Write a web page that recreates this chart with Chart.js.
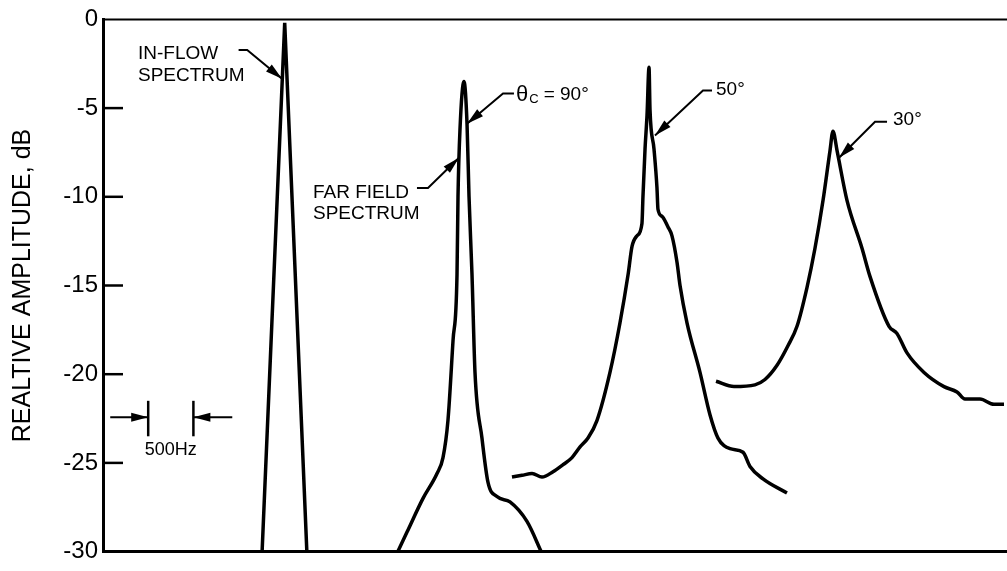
<!DOCTYPE html>
<html>
<head>
  <title>Relative amplitude spectra</title>
  <style>
    body {
      margin: 0;
      background: #fff;
    }
    #wrap {
      width: 1007px;
      height: 571px;
    }
  </style>
</head>
<body>
  <div id="wrap"><canvas id="specChart"></canvas></div>

  <script src="https://cdn.jsdelivr.net/npm/chart.js"></script>

  <script>
    // frequency in Hz (500 Hz per marker), amplitude in dB
    const inflowHz = [1760, 2010, 2255];
    const inflowDb = [-30, -0.2, -30];

    const far90Hz = [3252, 3363, 3540, 3695, 3761, 3816, 3872, 3916, 3927, 3949, 3993, 4027, 4049, 4082, 4115, 4192, 4259, 4358, 4502, 4690, 4856];
    const far90Db = [-30.1, -28.9, -27.0, -25.6, -24.7, -22.6, -18.1, -14.4, -10.0, -6.2, -3.5, -5.9, -10.0, -14.4, -19.9, -23.6, -26.1, -26.9, -27.2, -28.3, -30.1];

    const far50Hz = [4524, 4635, 4746, 4856, 4978, 5089, 5188, 5277, 5365, 5465, 5608, 5719, 5808, 5852, 5907, 5962, 5973, 5996, 6018, 6040, 6051, 6095, 6128, 6139, 6184, 6250, 6294, 6350, 6383, 6460, 6604, 6715, 6803, 6936, 7080, 7157, 7301, 7566];
    const far50Db = [-25.8, -25.7, -25.6, -25.8, -25.5, -25.1, -24.7, -24.1, -23.6, -22.6, -19.9, -17.1, -14.4, -12.8, -12.2, -11.5, -10.0, -7.3, -5.4, -2.7, -5.1, -7.3, -9.5, -10.7, -11.1, -11.7, -12.2, -13.7, -15.0, -17.1, -19.9, -22.3, -23.6, -24.2, -24.4, -25.2, -25.9, -26.7];

    const far30Hz = [6781, 6980, 7212, 7323, 7456, 7577, 7677, 7788, 7876, 7965, 8042, 8075, 8120, 8230, 8396, 8485, 8695, 8783, 8894, 9082, 9303, 9447, 9535, 9701, 9856, 9967];
    const far30Db = [-20.4, -20.7, -20.6, -20.3, -19.5, -18.4, -17.3, -15.1, -12.9, -10.2, -7.4, -6.3, -7.4, -10.2, -12.9, -14.5, -17.3, -17.7, -18.8, -19.9, -20.7, -21.0, -21.4, -21.4, -21.7, -21.7];

    const dbMin = -30;
    const dbMax = 0;
    const dbStep = 5;
    const hzMax = 10000;
    const markerHz = [500, 1000]; // the "500Hz" scale bar

    const FONT = '"Liberation Sans", Arial, Helvetica, sans-serif';

    function toPoints(xs, ys) {
      return xs.map((x, i) => ({ x: x, y: ys[i] }));
    }

    // leader lines with arrowheads, in data units (last point = arrow tip)
    const leaders = [
      [[1500, -1.72], [1595, -1.72], [1980, -3.35]],
      [[3473, -9.5], [3595, -9.5], [3938, -7.8]],
      [[4546, -4.18], [4425, -4.18], [4027, -5.88]],
      [[6737, -4.01], [6637, -4.01], [6106, -6.54]],
      [[8673, -5.77], [8540, -5.77], [8142, -7.8]],
      [[80, -22.42], [markerHz[0], -22.42]],
      [[1430, -22.42], [markerHz[1], -22.42]]
    ];

    const labels = [
      { x: 387, y: -1.92, text: 'IN-FLOW' },
      { x: 387, y: -3.17, text: 'SPECTRUM' },
      { x: 2323, y: -9.8, text: 'FAR FIELD' },
      { x: 2323, y: -10.95, text: 'SPECTRUM' },
      { x: 6781, y: -3.96, text: '50°' },
      { x: 8739, y: -5.66, text: '30°' },
      { x: 750, y: -24.29, text: '500Hz', align: 'center', size: 18 }
    ];

    function arrowHead(ctx, from, tip) {
      const dx = tip[0] - from[0], dy = tip[1] - from[1];
      const len = Math.hypot(dx, dy);
      const ux = dx / len, uy = dy / len;
      const L = 17, w = 4.5;
      const bx = tip[0] - ux * L, by = tip[1] - uy * L;
      ctx.beginPath();
      ctx.moveTo(tip[0], tip[1]);
      ctx.lineTo(bx - uy * w, by + ux * w);
      ctx.lineTo(bx + uy * w, by - ux * w);
      ctx.closePath();
      ctx.fill();
    }

    const annotatePlugin = {
      id: 'annotate',
      afterDraw(chart) {
        const ctx = chart.ctx;
        const area = chart.chartArea;
        const xs = chart.scales.x;
        const ys = chart.scales.y;
        const px = v => xs.getPixelForValue(v);
        const py = v => ys.getPixelForValue(v);

        ctx.save();
        ctx.strokeStyle = '#000';
        ctx.fillStyle = '#000';

        // top frame line
        ctx.lineWidth = 2;
        ctx.beginPath();
        ctx.moveTo(area.left, area.top);
        ctx.lineTo(area.right, area.top);
        ctx.stroke();

        // tick marks drawn inward from the left axis
        ctx.lineWidth = 2.5;
        for (let v = dbMin + dbStep; v < dbMax; v += dbStep) {
          const y = py(v);
          ctx.beginPath();
          ctx.moveTo(area.left, y);
          ctx.lineTo(area.left + 20, y);
          ctx.stroke();
        }

        // leaders
        ctx.lineWidth = 2;
        leaders.forEach(pts => {
          const p = pts.map(d => [px(d[0]), py(d[1])]);
          ctx.beginPath();
          ctx.moveTo(p[0][0], p[0][1]);
          for (let i = 1; i < p.length; i++) ctx.lineTo(p[i][0], p[i][1]);
          ctx.stroke();
          arrowHead(ctx, p[p.length - 2], p[p.length - 1]);
        });

        // 500 Hz bars
        ctx.lineWidth = 2.5;
        markerHz.forEach(hz => {
          ctx.beginPath();
          ctx.moveTo(px(hz), py(-21.5));
          ctx.lineTo(px(hz), py(-23.5));
          ctx.stroke();
        });

        // text labels
        ctx.textBaseline = 'middle';
        labels.forEach(l => {
          ctx.font = (l.size || 19) + 'px ' + FONT;
          ctx.textAlign = l.align || 'left';
          ctx.fillText(l.text, px(l.x), py(l.y));
        });

        // theta_c = 90 deg, with subscript
        ctx.textAlign = 'left';
        let tx = px(4569);
        const ty = py(-4.23);
        ctx.font = '22px ' + FONT;
        ctx.fillText('θ', tx, ty);
        tx += ctx.measureText('θ').width + 1;
        ctx.font = '13px ' + FONT;
        ctx.fillText('C', tx, ty + 5);
        tx += ctx.measureText('C').width + 5;
        ctx.font = '19px ' + FONT;
        ctx.fillText('= 90°', tx, ty);

        ctx.restore();
      }
    };

    function lineSet(xs, ys, smooth) {
      return {
        data: toPoints(xs, ys),
        borderColor: '#000',
        borderWidth: 3.5,
        pointRadius: 0,
        fill: false,
        tension: smooth ? 0.4 : 0,
        cubicInterpolationMode: smooth ? 'monotone' : 'default'
      };
    }

    const ctx = document.getElementById('specChart').getContext('2d');
    new Chart(ctx, {
      type: 'line',
      data: {
        datasets: [
          lineSet(inflowHz, inflowDb, false),
          lineSet(far90Hz, far90Db, true),
          lineSet(far50Hz, far50Db, true),
          lineSet(far30Hz, far30Db, true)
        ]
      },
      options: {
        responsive: true,
        maintainAspectRatio: false,
        animation: false,
        layout: { padding: { top: 18, right: 0, bottom: 7, left: 0 } },
        plugins: {
          legend: { display: false },
          tooltip: { enabled: false }
        },
        scales: {
          x: {
            type: 'linear',
            min: 0,
            max: hzMax,
            ticks: { display: false },
            grid: { display: false, drawTicks: false },
            border: { display: true, color: '#000', width: 3 },
            afterFit: s => { s.height = 0; }
          },
          y: {
            type: 'linear',
            min: dbMin,
            max: dbMax,
            ticks: {
              stepSize: dbStep,
              color: '#000',
              padding: 5,
              font: { family: FONT, size: 24 },
              callback: v => String(v)
            },
            grid: { display: false, drawTicks: false },
            border: { display: true, color: '#000', width: 3 },
            title: {
              display: true,
              text: 'REALTIVE AMPLITUDE, dB',
              color: '#000',
              font: { family: FONT, size: 25 },
              padding: { top: 8, bottom: 0 }
            },
            afterFit: s => { s.width = 103; }
          }
        }
      },
      plugins: [annotatePlugin]
    });
  </script>
</body>
</html>
